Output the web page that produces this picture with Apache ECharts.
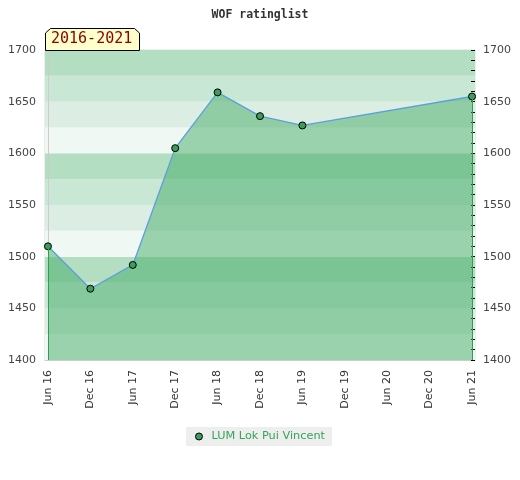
<!DOCTYPE html>
<html><head><meta charset="utf-8">
<script src="https://cdn.jsdelivr.net/npm/echarts@6/dist/echarts.min.js"></script>
<style>html,body{margin:0;padding:0;background:#fff}#c{width:520px;height:480px}</style>
</head><body><div id="c"></div>
<script>
var categories = ['Jun 16','Dec 16','Jun 17','Dec 17','Jun 18','Dec 18','Jun 19','Dec 19','Jun 20','Dec 20','Jun 21'];
var ratings = [1510, 1469, 1492, 1605, 1659, 1636, 1627, null, null, null, 1655];
var yTicks = [1400, 1450, 1500, 1550, 1600, 1650, 1700];
var playerName = 'LUM Lok Pui Vincent';
var periodLabel = '2016-2021';
var chartTitle = 'WOF ratinglist';

var seriesData = ratings.map(function (v, i) { return [i, v]; });
var firstIdx = 0, lastIdx = ratings.length - 1;
var yMin = yTicks[0], yMax = yTicks[yTicks.length - 1];
function plain(v) { return String(v); }

var chart = echarts.init(document.getElementById('c'), null, {renderer: 'canvas'});
var font = 'DejaVu Sans';
chart.setOption({
  animation: false,
  title: {
    text: chartTitle, left: 'center', top: 4,
    textStyle: {fontFamily: 'DejaVu Sans Mono', fontSize: 11.5, fontWeight: 'bold', color: '#333'}
  },
  grid: {left: 45, right: 45, top: 50, bottom: 120, show: true, borderColor: '#dcdcdc', borderWidth: 1, backgroundColor: 'transparent'},
  xAxis: {
    type: 'value', min: -0.07, max: 10.07,
    splitLine: {show: false},
    axisLine: {show: true, onZero: false, lineStyle: {color: '#cccccc'}},
    axisTick: {show: false},
    axisLabel: {
      customValues: categories.map(function (c, i) { return i; }),
      formatter: function (v) { return categories[Math.round(v)]; },
      rotate: 90, margin: 10, fontFamily: font, fontSize: 11, color: '#333'
    }
  },
  yAxis: [{
    type: 'value', min: yMin, max: yMax, interval: 50, position: 'left',
    axisLine: {show: true, lineStyle: {color: '#cccccc'}},
    axisTick: {show: false},
    splitLine: {show: false},
    axisLabel: {margin: 9, fontFamily: font, fontSize: 11, color: '#444', formatter: plain}
  }, {
    type: 'value', min: yMin, max: yMax, interval: 50, position: 'right',
    axisLine: {show: false},
    axisTick: {show: true, inside: true, length: 4, lineStyle: {color: '#000'}},
    minorTick: {show: true, splitNumber: 5, length: 4, lineStyle: {color: '#000'}},
    splitLine: {show: false},
    axisLabel: {margin: 8, fontFamily: font, fontSize: 11, color: '#444', formatter: plain}
  }, {
    type: 'value', min: yMin, max: yMax, interval: 25, position: 'left',
    axisLine: {show: false}, axisTick: {show: false}, axisLabel: {show: false},
    splitLine: {show: false},
    splitArea: {show: true, areaStyle: {color: ['#f0f8f3', '#dceee3', '#c8e7d4', '#b3dec2']}}
  }],
  legend: {
    top: 427, left: 'center',
    backgroundColor: '#eeeeee', padding: [4, 7, 4, 9],
    icon: 'circle', itemWidth: 7, itemHeight: 7, itemGap: 5,
    itemStyle: {borderWidth: 1, borderColor: '#000'},
    textStyle: {color: '#35a358', fontFamily: font, fontSize: 11.3, padding: [0, 0, 0, 4]},
    data: [playerName]
  },
  series: [{
    name: playerName, type: 'line', yAxisIndex: 0, z: 3,
    data: seriesData, connectNulls: true,
    symbol: 'circle', symbolSize: 7,
    itemStyle: {color: '#3a9d5a', borderColor: '#000', borderWidth: 1},
    lineStyle: {color: '#5c9fdc', width: 1.3},
    areaStyle: {origin: 'start', color: 'rgba(67,172,104,0.5)', opacity: 1},
    markLine: {
      silent: true, symbol: ['none', 'none'], label: {show: false},
      lineStyle: {color: '#2f9e4e', width: 1, type: 'solid'},
      data: [
        [{coord: [firstIdx, ratings[firstIdx]]}, {coord: [firstIdx, yMin]}],
        [{coord: [lastIdx, ratings[lastIdx]]}, {coord: [lastIdx, yMin]}]
      ]
    }
  }],
  graphic: [{
    type: 'polygon', z: 10,
    shape: {points: [[45.5, 50.5], [45.5, 33], [50.5, 28.5], [134.5, 28.5], [139.5, 33], [139.5, 50.5]]},
    style: {fill: '#ffffcc', stroke: '#000', lineWidth: 1}
  }, {
    type: 'text', z: 11, left: 51, top: 32,
    style: {text: periodLabel, fill: '#8b0000', font: '15px "DejaVu Sans Mono"'}
  }]
});
</script></body></html>
